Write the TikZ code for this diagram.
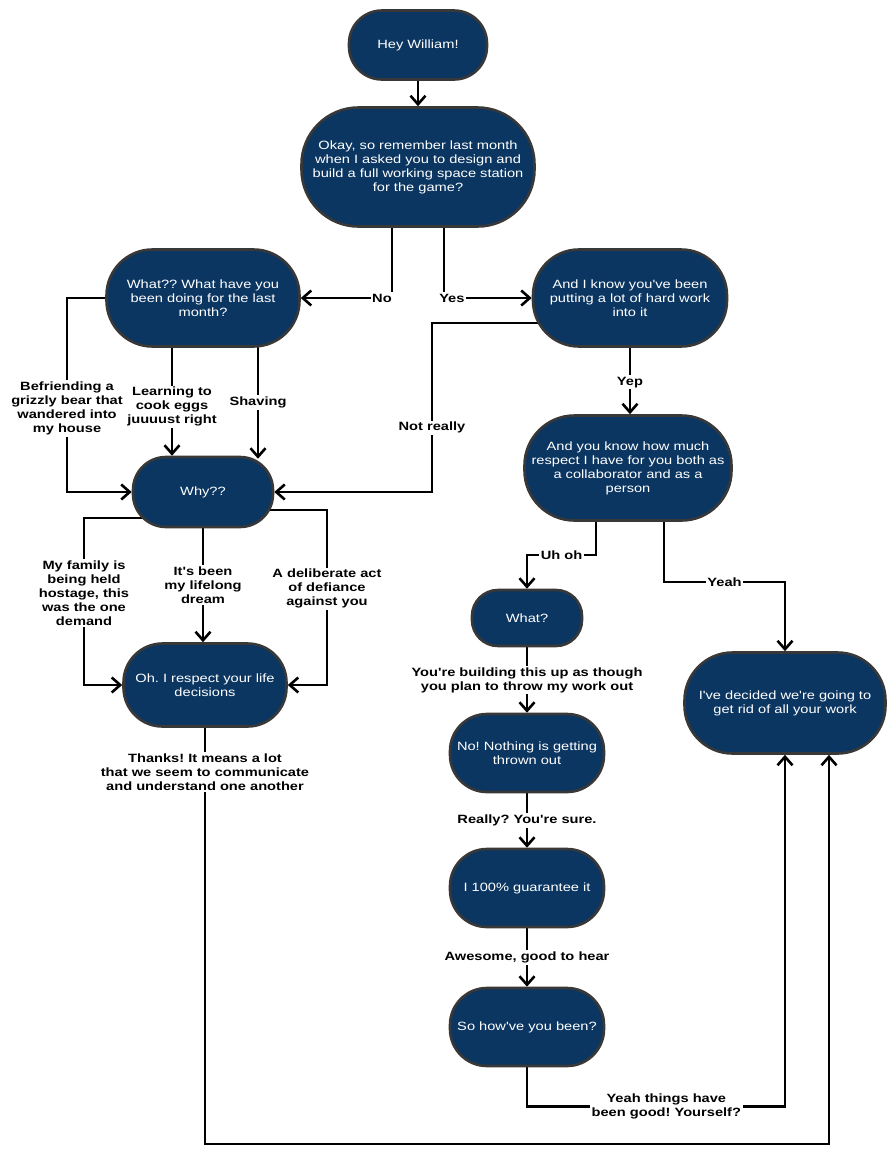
\documentclass[tikz,border=0pt]{standalone}
\usepackage{fontspec}
\setmainfont{Liberation Sans}[FakeStretch=1.22,Ligatures=TeXOff]
\usetikzlibrary{arrows.meta,backgrounds}
\definecolor{navy}{HTML}{0B3661}
\definecolor{bordc}{HTML}{383838}
\frenchspacing
\tikzset{
 bub/.style={draw=bordc, fill=navy, line width=2.6pt, text=white, align=center, inner sep=0pt, font=\fontsize{12}{14}\selectfont},
 lbl/.style={fill=white, inner sep=1.5pt, align=center, font=\fontsize{12}{14}\selectfont\bfseries, text=black},
 con/.style={line width=2.6pt, draw=black},
 arr/.style={con, -{Straight Barb[length=8.5pt,width=15pt]}},
}
\begin{document}
\begin{tikzpicture}[x=1pt,y=-1pt]
\useasboundingbox (0,0) rectangle (895,1163);
% nodes
\node[bub, minimum width=138pt, minimum height=69pt, rounded corners=33pt] (hey) at (418,45) {Hey William!};
\node[bub, minimum width=233pt, minimum height=119pt, rounded corners=57pt] (okay) at (418,167) {Okay, so remember last month\\when I asked you to design and\\build a full working space station\\for the game?};
\node[bub, minimum width=193pt, minimum height=97pt, rounded corners=46pt] (what) at (203,298) {What?? What have you\\been doing for the last\\month?};
\node[bub, minimum width=194pt, minimum height=97pt, rounded corners=46pt] (know) at (630,298) {And I know you've been\\putting a lot of hard work\\into it};
\node[bub, minimum width=140pt, minimum height=70pt, rounded corners=33pt] (why) at (203,492) {Why??};
\node[bub, minimum width=207pt, minimum height=105pt, rounded corners=50pt] (resp) at (628,468) {And you know how much\\respect I have for you both as\\a collaborator and as a\\person};
\node[bub, minimum width=110pt, minimum height=56pt, rounded corners=26pt] (whatq) at (527,618) {What?};
\node[bub, minimum width=154pt, minimum height=78pt, rounded corners=37pt] (nothing) at (527,753) {No! Nothing is getting\\thrown out};
\node[bub, minimum width=154pt, minimum height=78pt, rounded corners=37pt] (guar) at (527,888) {I 100\% guarantee it};
\node[bub, minimum width=154pt, minimum height=78pt, rounded corners=37pt] (how) at (527,1027) {So how've you been?};
\node[bub, minimum width=201pt, minimum height=101pt, rounded corners=48pt] (decided) at (785,703) {I've decided we're going to\\get rid of all your work};
\node[bub, minimum width=163pt, minimum height=83pt, rounded corners=39pt] (oh) at (205,685) {Oh. I respect your life\\decisions};
% connectors
\begin{scope}[on background layer]
\draw[arr] (hey) -- (okay);
\draw[arr] ([xshift=-26pt]okay.center) |- node[lbl,pos=0.555]{No} (what.east);
\draw[arr] ([xshift=26pt]okay.center) |- node[lbl,pos=0.545]{Yes} (know.west);
\draw[arr] (what.center) -- ++(-136,0) |- node[lbl,pos=0.285]{Befriending a\\grizzly bear that\\wandered into\\my house} (why.west);
\draw[arr] ([xshift=-31pt]what.center) -- node[lbl,pos=0.69]{Learning to\\cook eggs\\juuuust right} ([xshift=-31pt]why.north);
\draw[arr] ([xshift=55pt]what.center) -- node[lbl,pos=0.65]{Shaving} ([xshift=55pt,yshift=-3pt]why.north);
\draw[arr] ([yshift=-25pt]know.center) -- ++(-198,0) |- node[lbl,pos=0.31]{Not really} (why.east);
\draw[arr] (know.south) -- node[lbl,pos=0.52]{Yep} (know.south |- resp.north);
\draw[arr] ([xshift=-32pt]resp.south) -- ++(0,33) -| node[lbl,pos=0.25]{Uh oh} (whatq.north);
\draw[arr] ([xshift=36pt]resp.south) -- ++(0,60) -| node[lbl,pos=0.25]{Yeah} (decided.north);
\draw[arr] (whatq) -- node[lbl]{You're building this up as though\\you plan to throw my work out} (nothing);
\draw[arr] (nothing) -- node[lbl]{Really? You're sure.} (guar);
\draw[arr] (guar) -- node[lbl]{Awesome, good to hear} (how);
\draw[arr] (how.south) -- ++(0,39) -| node[lbl,pos=0.27]{Yeah things have\\been good! Yourself?} (decided.south);
\draw[arr] ([yshift=-26pt]why.center) -- ++(-119,0) |- node[lbl,pos=0.225]{My family is\\being held\\hostage, this\\was the one\\demand} (oh.west);
\draw[arr] (why.south) -- node[lbl]{It's been\\my lifelong\\dream} (why.south |- oh.north);
\draw[arr] ([yshift=-18pt]why.center) -- ++(124,0) |- node[lbl,pos=0.225]{A deliberate act\\of defiance\\against you} (oh.east);
\draw[arr] (oh.south) -- node[lbl,pos=0.106]{Thanks! It means a lot\\that we seem to communicate\\and understand one another} ++(0,416) -| ([xshift=44pt]decided.south);
\end{scope}
\end{tikzpicture}
\end{document}
